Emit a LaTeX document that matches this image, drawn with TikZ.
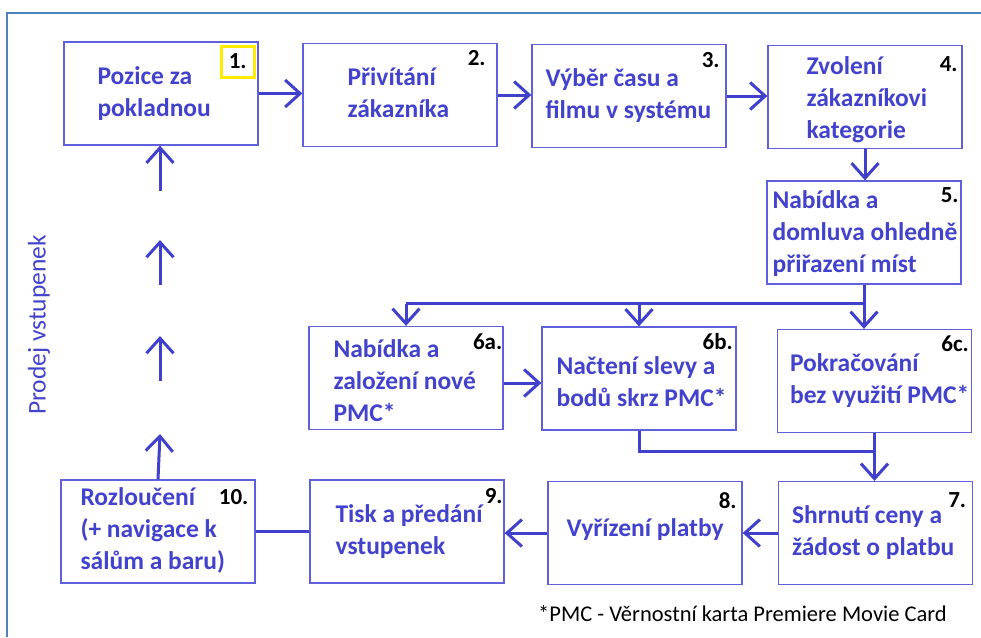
\documentclass[tikz,border=0pt]{standalone}
\usepackage{fontspec}
\setmainfont{Carlito}
\usepackage{xcolor}
\usepackage{tikz}
\usetikzlibrary{arrows.meta, positioning, calc}
\definecolor{KinoText}{RGB}{66, 66, 204}
\definecolor{KinoArrow}{RGB}{64, 64, 204}
\definecolor{KinoBorder}{RGB}{96, 96, 220}
\definecolor{KinoFrame}{RGB}{79, 129, 189}
\definecolor{KinoYellow}{RGB}{255, 236, 0}

\tikzset{
  krok/.style={draw=KinoBorder, line width=1.3pt, minimum width=194pt, minimum height=103pt, inner sep=0pt},
  popis/.style={anchor=west, align=left, text=KinoText, inner sep=0pt, font=\fontsize{25.5}{32}\selectfont\bfseries},
  cislo/.style={inner sep=0pt, font=\fontsize{23}{27}\selectfont\bfseries},
  sipka/.style={draw=KinoArrow, line width=3pt, -{Straight Barb[length=15pt,width=27pt]}},
  cara/.style={draw=KinoArrow, line width=3pt},
}

\begin{document}
\begin{tikzpicture}[x=1pt,y=-1pt]
  \path[use as bounding box] (0,0) rectangle (981,637);

  % Outer frame
  \draw[KinoFrame, line width=2.2pt] (7,637) -- (7,13) -- (981,13);

  % Boxes
  \foreach \jm/\x/\y in {k1/161/93.5, k2/400/95, k3/629/96, k4/865/97,
    k5/864/232.5, k6a/406/378, k6b/639/378.5, k6c/874.5/381,
    k7/875.5/533, k8/645/533, k9/407/531.5, k10/158/531.5}{
    \node[krok] (\jm) at (\x,\y) {};
  }

  % Texts in boxes
  \foreach \jm/\dx/\dy/\txt in {
    k1/34/0/Pozice za\\pokladnou,
    k2/45/-2/Přivítání\\zákazníka,
    k3/14/0/Výběr času a\\filmu v systému,
    k4/39/3/Zvolení\\zákazníkovi\\kategorie,
    k5/6/1/Nabídka a\\domluva ohledně\\přiřazení míst,
    k6a/25/3/Nabídka a\\založení nové\\PMC*,
    k6b/15/3/Načtení slevy a\\bodů skrz PMC*,
    k6c/13/0/Pokračování\\bez využití PMC*,
    k7/14/0/Shrnutí ceny a\\žádost o platbu,
    k8/19/-3/Vyřízení platby,
    k9/26/0/Tisk a předání\\vstupenek,
    k10/20/-1/Rozloučení\\(+ navigace k\\sálům a baru)}{
    \node[popis] (t-\jm) at ($(\jm.west)+(\dx,\dy)$) {\txt};
  }

  % Step numbers
  \foreach \jm/\dx/\dy/\cis in {k1/-21/20/1., k2/-21/15/2., k3/-16/16/3., k4/-14/19/4.,
    k5/-12/15/5., k6a/-16/16/6a., k6b/-19/15/6b., k6c/-17/15/6c.,
    k7/-16/19/7., k8/-15/20/8., k9/-11/17/9., k10/-22/18/10.}{
    \node[cislo] (c-\jm) at ($(\jm.north east)+(\dx,\dy)$) {\cis};
  }
  \draw[KinoYellow, line width=3pt] ($(c-k1)+(-16,-15)$) rectangle ($(c-k1)+(17,16)$);

  % Top row
  \draw[sipka] (k1.east) -- (k1.east -| k2.west);
  \draw[sipka] (k2.east) -- (k2.east -| k3.west);
  \draw[sipka] (k3.east) -- (k3.east -| k4.west);
  \draw[sipka] (k4.south) -- (k4.south |- k5.north);

  % Split to 6a/6b/6c
  \coordinate (rozc) at ($(k5.south)+(0,19)$);
  \draw[cara] (k5.south) -- (rozc) -- (rozc -| k6a.north);
  \draw[sipka] (rozc -| k6a.north) -- (k6a.north);
  \draw[sipka] (rozc -| k6b.north) -- (k6b.north);
  \draw[sipka] (rozc) -- (rozc |- k6c.north);
  \draw[sipka] ([yshift=-5pt]k6a.east) -- ([yshift=-5pt]k6a.east -| k6b.west);

  % Join to 7
  \coordinate (spoj) at ($(k6c.south)+(0,18)$);
  \draw[cara] (k6b.south) |- (spoj);
  \draw[sipka] (k6c.south) -- (k6c.south |- k7.north);

  % Bottom row
  \draw[sipka] (k7.west) -- (k7.west -| k8.east);
  \draw[sipka] (k8.west) -- (k8.west -| k9.east);
  \draw[cara] (k9.west) -- (k9.west -| k10.east);

  % Back to start
  \foreach \jm/\y in {n1/434, n2/381, n3/336, n4/285, n5/240, n6/191}{
    \coordinate (\jm) at (160,\y);
  }
  \draw[sipka] (k10.north) -- (n1);
  \draw[sipka] (n2) -- (n3);
  \draw[sipka] (n4) -- (n5);
  \draw[sipka] (n6) -- (n6 |- k1.south);

  % Side title and note
  \node[rotate=90, text=KinoText, font=\fontsize{25.5}{30}\selectfont] (nazev) at (39,325) {Prodej vstupenek};
  \node[anchor=west, inner sep=0pt, text=black, font=\fontsize{22.5}{27}\selectfont] (pozn) at (538,614)
    {*PMC - Věrnostní karta Premiere Movie Card};
\end{tikzpicture}
\end{document}
